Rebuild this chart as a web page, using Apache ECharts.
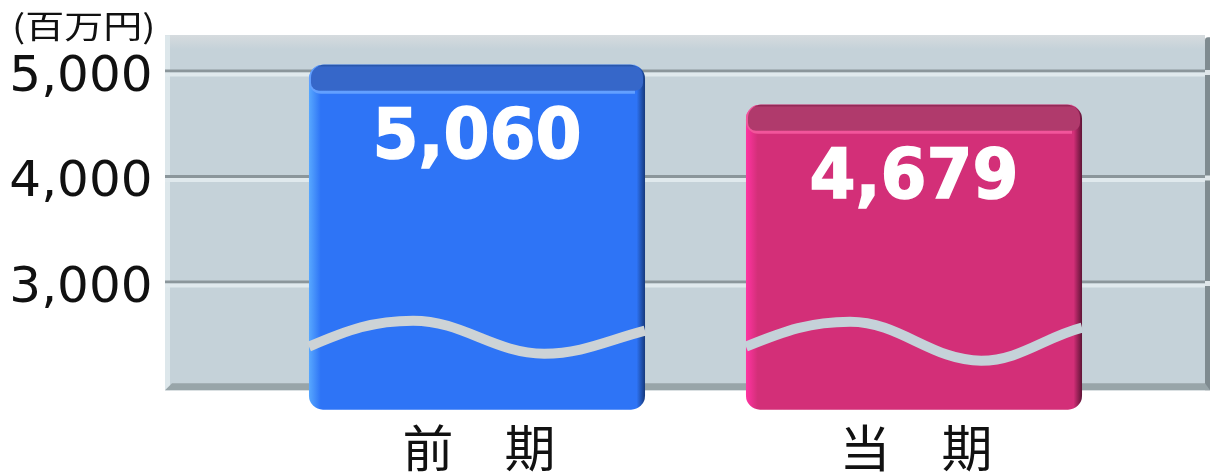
<!DOCTYPE html>
<html lang="ja">
<head>
<meta charset="utf-8">
<style>html,body{margin:0;padding:0;background:#fff}#chart{width:1210px;height:474px}</style>
<script src="https://cdn.jsdelivr.net/npm/echarts@6/dist/echarts.min.js"></script>
</head>
<body>
<div id="chart"></div>
<script>
// Sales of the previous and the current term, in millions of yen.
const periods = ['前　期', '当　期'];
const sales = [5060, 4679];
const tickValues = [3000, 4000, 5000];

// The value axis is cut below the plot, so bars and wall end at these values.
const wallTopValue = 5340;
const wallBottomValue = 1975;
const barFootValue = 1790;

const wallLeft = 165;
const wallRight = 1205;
const wallEdge = 5;

const wallColour = '#c5d2d9';
const barColours = [
  { edgeL: '#58a8ff', body: '#2e74f6', edgeR: '#16397c', cap: '#3667c9', capTop: '#24509f', capHi: '#63a0ff', wave: '#cdd3d6' },
  { edgeL: '#ff34a2', body: '#d32f78', edgeR: '#5e1436', cap: '#b03a6c', capTop: '#8a2450', capHi: '#f2559b', wave: wallColour }
];
const waveLevels = [
  { left: 63, peak: 89, trough: 56, right: 79 },
  { left: 63, peak: 88, trough: 49, right: 82 }
];

const gradient = (x2, y2, stops) => new echarts.graphic.LinearGradient(0, 0, x2, y2,
  stops.map(([offset, color]) => ({ offset, color })));

function renderWall(params, api) {
  const top = api.coord([0, wallTopValue])[1];
  const bottom = api.coord([0, wallBottomValue])[1];
  const w = wallRight - wallLeft;
  const h = bottom - top;
  return {
    type: 'group',
    children: [
      { type: 'rect', shape: { x: wallLeft, y: top, width: w, height: h },
        style: { fill: wallColour } },
      { type: 'rect', shape: { x: wallLeft, y: top, width: w, height: 14 },
        style: { fill: gradient(0, 1, [[0, '#d6dbde'], [1, wallColour]]) } },
      { type: 'rect', shape: { x: wallLeft, y: top, width: wallEdge, height: h },
        style: { fill: '#dde7eb' } },
      { type: 'rect', shape: { x: wallRight, y: top + 2, width: wallEdge, height: h - 2, r: [3, 0, 0, 0] },
        style: { fill: '#7f8b90' } },
      { type: 'polygon', shape: { points: [
          [wallLeft, bottom], [wallLeft + 7, bottom - 7],
          [wallRight, bottom - 7], [wallRight + wallEdge, bottom]] },
        style: { fill: '#98a5a9' } }
    ]
  };
}

function renderRule(params, api) {
  const y = api.coord([0, api.value(0)])[1];
  return {
    type: 'group',
    children: [
      { type: 'rect', shape: { x: wallLeft, y: y - 1.5, width: wallRight - wallLeft, height: 3 },
        style: { fill: '#8b969b' } },
      { type: 'rect', shape: { x: wallLeft, y: y + 1.5, width: wallRight - wallLeft, height: 4 },
        style: { fill: '#e0e9ed' } },
      { type: 'rect', shape: { x: wallRight, y: y - 1, width: wallEdge, height: 5 },
        style: { fill: '#dfe6e9' } }
    ]
  };
}

function renderBar(params, api) {
  const i = params.dataIndex;
  const c = barColours[i];
  const lvl = waveLevels[i];
  const centre = api.coord([i, 0])[0];
  const width = api.size([1, 0])[0] * 0.769;
  const x = centre - width / 2;
  const top = api.coord([i, api.value(1)])[1];
  const foot = api.coord([i, barFootValue])[1];
  const capH = 26;
  const px = x + width * 0.31, tx = x + width * 0.70, rx = x + width;
  const span = (a, b) => (b - a) * 0.38;
  const wave = 'M' + x + ' ' + (foot - lvl.left)
    + ' C' + (x + span(x, px)) + ' ' + (foot - lvl.peak + 9) + ' ' + (px - span(x, px)) + ' ' + (foot - lvl.peak) + ' ' + px + ' ' + (foot - lvl.peak)
    + ' C' + (px + span(px, tx)) + ' ' + (foot - lvl.peak) + ' ' + (tx - span(px, tx)) + ' ' + (foot - lvl.trough) + ' ' + tx + ' ' + (foot - lvl.trough)
    + ' C' + (tx + span(tx, rx)) + ' ' + (foot - lvl.trough) + ' ' + (rx - span(tx, rx)) + ' ' + (foot - lvl.right + 10) + ' ' + rx + ' ' + (foot - lvl.right);
  return {
    type: 'group',
    children: [
      { type: 'rect', shape: { x, y: top, width, height: foot - top, r: 14 },
        style: { fill: gradient(1, 0, [[0, c.edgeL], [0.035, c.body], [0.975, c.body], [1, c.edgeR]]) } },
      { type: 'rect', shape: { x, y: top, width: width - 10, height: capH + 3, r: [14, 0, 0, 12] },
        style: { fill: c.capHi } },
      { type: 'rect', shape: { x: x + 2, y: top, width: width - 4, height: capH, r: [13, 13, 8, 8] },
        style: { fill: gradient(0, 1, [[0, c.capTop], [0.1, c.cap], [1, c.cap]]) } },
      { type: 'path', shape: { pathData: wave },
        style: { fill: 'none', stroke: c.wave, lineWidth: 10 } },
      { type: 'text', x: centre, y: top + 75, scaleX: 0.945,
        style: { text: api.value(1).toLocaleString('en-US'), fill: '#fff',
          stroke: '#fff', lineWidth: 1.5,
          font: 'bold 70px "DejaVu Sans"', align: 'center', verticalAlign: 'middle' } }
    ]
  };
}

const chart = echarts.init(document.getElementById('chart'), null, { renderer: 'canvas' });
chart.setOption({
  animation: false,
  backgroundColor: '#fff',
  grid: { left: 258.5, width: 874, top: -34.5, height: 527.5, outerBoundsMode: 'none' },
  xAxis: {
    type: 'category', data: periods,
    axisLine: { show: false }, axisTick: { show: false },
    axisLabel: { show: false }
  },
  yAxis: {
    type: 'value', min: 1000, max: 6000, interval: 1000,
    axisLine: { show: false }, axisTick: { show: false }, splitLine: { show: false },
    axisLabel: {
      margin: 106,
      formatter: v => tickValues.includes(v) ? '{tick|' + v.toLocaleString('en-US') + '}' : '',
      rich: { tick: { color: '#111', fontFamily: 'DejaVu Sans', fontSize: 50, padding: [14, 0, 0, 0] } }
    }
  },
  graphic: [{
    type: 'text', left: 12, top: 10, scaleX: 1.22,
    style: { text: '(百万円)', fill: '#111', font: '32px "Noto Sans CJK JP"' }
  }],
  series: [
    { type: 'custom', z: 1, silent: true, renderItem: renderWall, data: [[0]], encode: { y: 0 } },
    { type: 'custom', z: 2, silent: true, renderItem: renderRule, data: tickValues.map(v => [v]), encode: { y: 0 } },
    {
      type: 'custom', z: 3, renderItem: renderBar,
      data: sales.map((v, i) => [i, v]), encode: { x: 0, y: 1 }
    },
    {
      type: 'custom', z: 4, silent: true,
      data: periods.map((p, i) => [i, barFootValue]), encode: { x: 0, y: 1 },
      renderItem: (params, api) => {
        const [x, y] = api.coord([api.value(0), api.value(1)]);
        return { type: 'text', x: x + 2, y: y + 38, scaleX: 1.02,
          style: { text: periods[params.dataIndex], fill: '#111',
            font: '50px "Noto Sans CJK JP"', align: 'center', verticalAlign: 'middle' } };
      }
    }
  ]
});
</script>
</body>
</html>
